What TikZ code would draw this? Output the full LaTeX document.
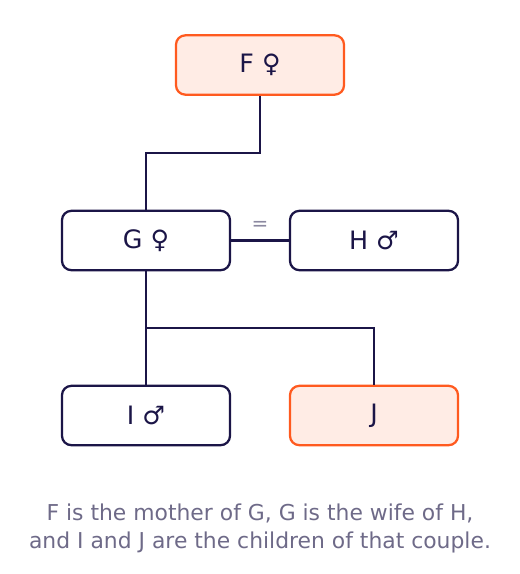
\documentclass[tikz,border=0pt]{standalone}
\usepackage{fontspec}
\setmainfont{DejaVu Sans}
\usetikzlibrary{positioning}
\definecolor{navy}{HTML}{1B1547}
\definecolor{hilite}{HTML}{FF5A1F}
\definecolor{hilitefill}{HTML}{FFECE5}
\definecolor{capgray}{HTML}{6E6A88}
\tikzset{
    person/.style={draw=navy, line width=1.7pt, rounded corners=7pt, fill=white,
        minimum width=126pt, minimum height=44.5pt, text=navy, font=\fontsize{19}{20}\selectfont},
    marked/.style={person, draw=hilite, fill=hilitefill},
    tie/.style={navy, line width=1.6pt}
}
\begin{document}
\begin{tikzpicture}[x=0.75pt, y=-0.75pt]
				\useasboundingbox (0,0) rectangle (520,574);

				\node[marked] (F) at (260,65) {F ♀};
				\node[person] (G) at (146,240.5) {G ♀};
				\node[person] (H) at (374,240.5) {H ♂};
				\node[person] (I) at (146,415.5) {I ♂};
				\node[marked] (J) at (374,415.5) {J};

				% mother to daughter
				\coordinate (fg) at (146,153);
				\draw[tie] (F.south) |- (fg) -- (G.north);

				% marriage
				\draw[tie] (G.east) -- (H.west);
				\node[text=capgray!80, font=\fontsize{15}{16}\selectfont] (eq) at (260,226) {=};

				% children of the couple
				\coordinate (kids) at (146,328);
				\draw[tie] (G.south) -- (I.north);
				\draw[tie] (kids) -| (J.north);

				\node[text=capgray, align=center, font=\fontsize{16.4}{21}\selectfont] (cap) at (260,528)
					{F is the mother of G, G is the wife of H,\\and I and J are the children of that couple.};
			\end{tikzpicture}
\end{document}
